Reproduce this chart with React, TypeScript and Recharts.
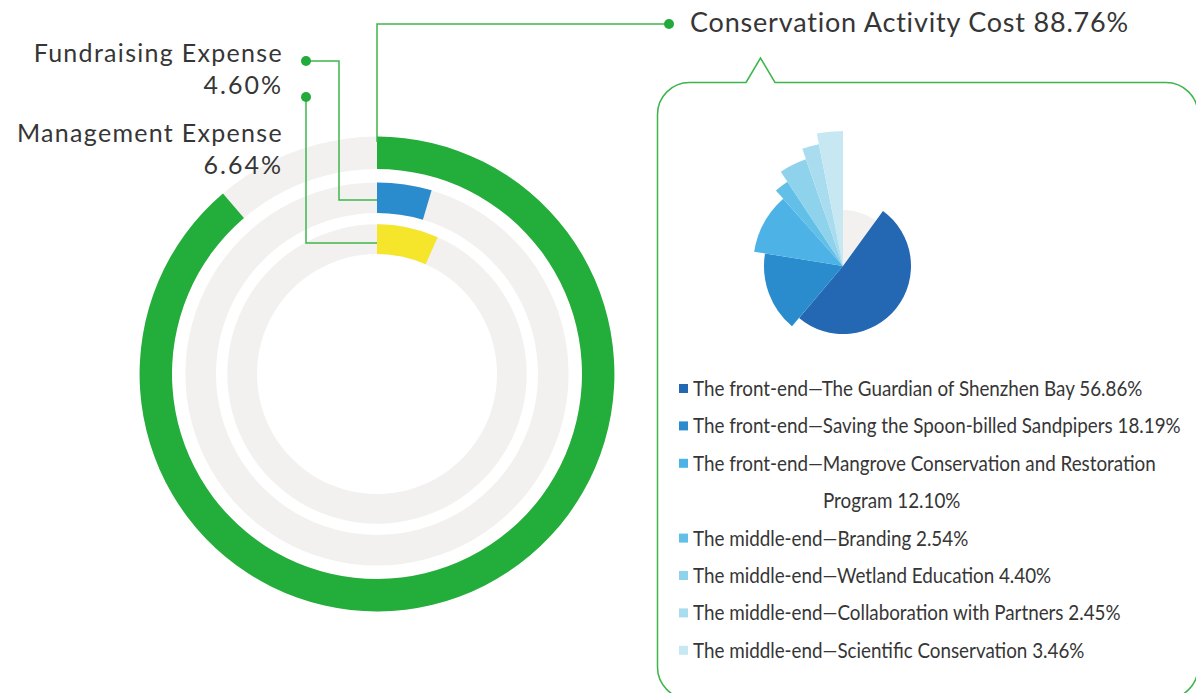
import { PieChart, Pie, Cell, RadialBarChart, RadialBar, PolarAngleAxis } from 'recharts'

const W = 1196
const H = 693
const FONT = 'Lato, "Open Sans", sans-serif'
const TEXT = '#363636'
const LINE = '#3db54b'
const NO_MARGIN = { top: 0, right: 0, bottom: 0, left: 0 }

// spending split, rings listed from inside out
const ringNames = ['Management Expense', 'Fundraising Expense', 'Conservation Activity Cost']
const ringValues = [6.64, 4.6, 88.76]
const ringColors = ['#f5e52b', '#2a8bcd', '#23ad3a']
const ringRadii = [[118, 151], [159, 193], [203, 239]]
const RING_CX = 377
const RING_CY = 374

// breakdown of the conservation activity cost
const projectNames = [
  'The front-end—The Guardian of Shenzhen Bay',
  'The front-end—Saving the Spoon-billed Sandpipers',
  'The front-end—Mangrove Conservation and Restoration Program',
  'The middle-end—Branding',
  'The middle-end—Wetland Education',
  'The middle-end—Collaboration with Partners',
  'The middle-end—Scientific Conservation',
]
const projectValues = [56.86, 18.19, 12.1, 2.54, 4.4, 2.45, 3.46]
const projectColors = ['#2467b3', '#2a8bcd', '#4db3e6', '#62bfe7', '#8fd2ec', '#a9dcef', '#c7e8f2']
const roseRadii = [68, 79, 90, 101, 113, 124, 135]
const ROSE_CX = 843
const ROSE_CY = 266

const pct = (v: number) => `${v.toFixed(2)}%`

const abs = { position: 'absolute' as const, left: 0, top: 0 }

function Ring({ i }: { i: number }) {
  const data = [{ name: ringNames[i], value: ringValues[i] }]
  const [inner, outer] = ringRadii[i]
  return (
    <div style={abs}>
      <RadialBarChart
        width={W}
        height={H}
        data={data}
        margin={NO_MARGIN}
        cx={RING_CX}
        cy={RING_CY}
        innerRadius={inner}
        outerRadius={outer}
        barSize={outer - inner}
        startAngle={90}
        endAngle={-270}
      >
        <PolarAngleAxis type="number" domain={[0, 100]} tick={false} axisLine={false} />
        <RadialBar dataKey="value" fill={ringColors[i]} background={{ fill: '#f2f1ef' }} isAnimationActive={false} />
      </RadialBarChart>
    </div>
  )
}

function Rose() {
  const projects = projectNames.map((name, i) => ({ name, value: projectValues[i] }))
  return (
    <div style={abs}>
      <PieChart width={W} height={H} margin={NO_MARGIN}>
        <Pie
          data={projects}
          dataKey="value"
          cx={ROSE_CX}
          cy={ROSE_CY}
          outerRadius={56}
          startAngle={90}
          endAngle={-270}
          fill="#f2f1ef"
          stroke="none"
          isAnimationActive={false}
        />
        {roseRadii.map((r, k) => (
          <Pie
            key={k}
            data={projects}
            dataKey="value"
            cx={ROSE_CX}
            cy={ROSE_CY}
            innerRadius={0}
            outerRadius={r}
            startAngle={54}
            endAngle={-270}
            stroke="none"
            isAnimationActive={false}
          >
            {projects.map((_, j) => (
              <Cell key={j} fill={j === k ? projectColors[j] : 'none'} stroke="none" />
            ))}
          </Pie>
        ))}
      </PieChart>
    </div>
  )
}

// legend text is narrow in the original, squeeze it horizontally
const LEG_X = 693
const LEG_SQUEEZE = 0.875

function Legend() {
  let row = 0
  const items = projectNames.map((name, i) => {
    const label = `${name} ${pct(projectValues[i])}`
    const lines: string[] = []
    if (label.length > 60) {
      const words = label.split(' ')
      lines.push(words.slice(0, -2).join(' '), words.slice(-2).join(' '))
    } else lines.push(label)
    const y = 396 + row * 37.4
    row += lines.length
    return (
      <g key={i}>
        <rect x={679} y={y - 12} width={9} height={9} fill={projectColors[i]} />
        <g transform={`translate(${LEG_X} 0) scale(${LEG_SQUEEZE} 1)`}>
          {lines.map((t, k) => (
            <text key={k} x={k === 0 ? 0 : 130 / LEG_SQUEEZE} y={y + k * 37.4} fontSize={21.5}>
              {t}
            </text>
          ))}
        </g>
      </g>
    )
  })
  return <g>{items}</g>
}

export default function App() {
  return (
    <div style={{ position: 'absolute', left: 0, top: 0, width: W, height: H, background: '#fff', overflow: 'hidden' }}>
      {ringNames.map((_, i) => (
        <Ring key={i} i={i} />
      ))}
      <Rose />
      <svg width={W} height={H} style={abs}>
        <g stroke={LINE} strokeWidth={1.5} fill="none">
          <polyline points={`${RING_CX},142 ${RING_CX},24 669,24`} />
          <polyline points={`306,61 339,61 339,200 ${RING_CX},200`} />
          <polyline points={`306,97 306,243 ${RING_CX},243`} />
          <path d="M 746 82.5 L 760.5 58 L 775 82.5 H 1166 A 32 32 0 0 1 1198 114.5 V 667 A 32 32 0 0 1 1166 699 H 689.5 A 32 32 0 0 1 657.5 667 V 114.5 A 32 32 0 0 1 689.5 82.5 Z" />
        </g>
        <g fill="#22aa3a">
          <circle cx={669} cy={24} r={5} />
          <circle cx={306} cy={61} r={5} />
          <circle cx={306} cy={97} r={5} />
        </g>
        <g fontFamily={FONT} fill={TEXT}>
          <text x={690} y={32} fontSize={27} letterSpacing={0.8}>
            {`${ringNames[2]} ${pct(ringValues[2])}`}
          </text>
          <g textAnchor="end" fontSize={25}>
            <text x={283} y={62} letterSpacing={1.3}>{ringNames[1]}</text>
            <text x={283} y={94} letterSpacing={2}>{pct(ringValues[1])}</text>
            <text x={283} y={142} letterSpacing={1.3}>{ringNames[0]}</text>
            <text x={283} y={174} letterSpacing={2}>{pct(ringValues[0])}</text>
          </g>
          <Legend />
        </g>
      </svg>
    </div>
  )
}
